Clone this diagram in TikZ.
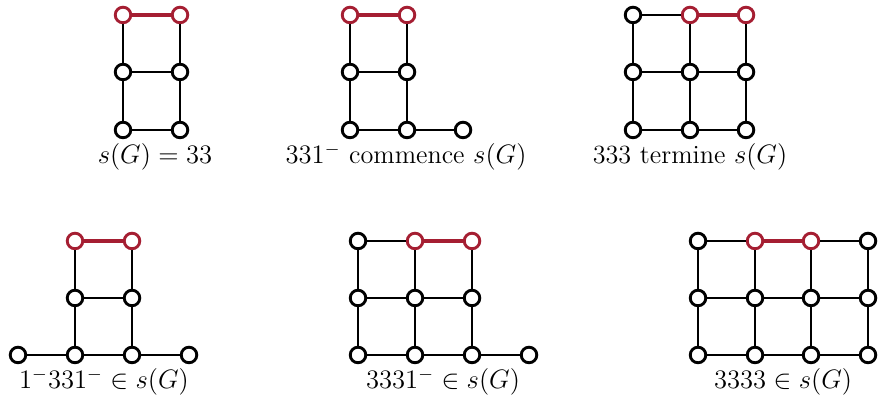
\documentclass[tikz,border=0pt]{standalone}
\usepackage{amssymb}
\definecolor{myred}{RGB}{165,30,50}
\tikzset{
  v/.style={circle,draw=black,line width=1.3pt,fill=white,inner sep=0pt,minimum size=7.0pt},
  rv/.style={v,draw=myred},
  e/.style={line width=0.65pt,black},
  re/.style={line width=1.4pt,myred},
  lab/.style={inner sep=0pt,font=\fontsize{11.8}{14}\selectfont}
}
\begin{document}
\begin{tikzpicture}[x=0.45pt,y=-0.45pt]
\useasboundingbox (0,0) rectangle (878,401);
% ---------- panel 1
\node[rv] (a1) at (123,15) {}; \node[rv] (a2) at (180,15) {};
\node[v] (a3) at (123,72) {}; \node[v] (a4) at (180,72) {};
\node[v] (a5) at (123,130) {}; \node[v] (a6) at (180,130) {};
\draw[re] (a1) -- (a2);
\draw[e] (a1) -- (a3) (a2) -- (a4) (a3) -- (a4) (a3) -- (a5) (a4) -- (a6) (a5) -- (a6);
\node[lab] (la) at (155,157) {$s(G)=33$};
% ---------- panel 2
\node[rv] (b1) at (350,15) {}; \node[rv] (b2) at (407,15) {};
\node[v] (b3) at (350,72) {}; \node[v] (b4) at (407,72) {};
\node[v] (b5) at (350,130) {}; \node[v] (b6) at (407,130) {}; \node[v] (b7) at (463,130) {};
\draw[re] (b1) -- (b2);
\draw[e] (b1) -- (b3) (b2) -- (b4) (b3) -- (b4) (b3) -- (b5) (b4) -- (b6) (b5) -- (b6) (b6) -- (b7);
\node[lab] (lb) at (406,157) {$331^-$ commence $s(G)$};
% ---------- panel 3
\node[v] (c1) at (633,15) {}; \node[rv] (c2) at (690,15) {}; \node[rv] (c3) at (746,15) {};
\node[v] (c4) at (633,72) {}; \node[v] (c5) at (690,72) {}; \node[v] (c6) at (746,72) {};
\node[v] (c7) at (633,130) {}; \node[v] (c8) at (690,130) {}; \node[v] (c9) at (746,130) {};
\draw[re] (c2) -- (c3);
\draw[e] (c1) -- (c2) (c4) -- (c5) (c5) -- (c6) (c7) -- (c8) (c8) -- (c9)
  (c1) -- (c4) (c4) -- (c7) (c2) -- (c5) (c5) -- (c8) (c3) -- (c6) (c6) -- (c9);
\node[lab] (lc) at (690,157) {333 termine $s(G)$};
% ---------- panel 4
\node[rv] (d1) at (75,241) {}; \node[rv] (d2) at (132,241) {};
\node[v] (d3) at (75,298) {}; \node[v] (d4) at (132,298) {};
\node[v] (d5) at (18,355) {}; \node[v] (d6) at (75,355) {}; \node[v] (d7) at (132,355) {}; \node[v] (d8) at (189,355) {};
\draw[re] (d1) -- (d2);
\draw[e] (d1) -- (d3) (d2) -- (d4) (d3) -- (d4) (d3) -- (d6) (d4) -- (d7)
  (d5) -- (d6) (d6) -- (d7) (d7) -- (d8);
\node[lab] (ld) at (104,382) {$1^-331^-\in s(G)$};
% ---------- panel 5
\node[v] (f1) at (358,241) {}; \node[rv] (f2) at (415,241) {}; \node[rv] (f3) at (472,241) {};
\node[v] (f4) at (358,298) {}; \node[v] (f5) at (415,298) {}; \node[v] (f6) at (472,298) {};
\node[v] (f7) at (358,355) {}; \node[v] (f8) at (415,355) {}; \node[v] (f9) at (472,355) {}; \node[v] (f10) at (529,355) {};
\draw[re] (f2) -- (f3);
\draw[e] (f1) -- (f2) (f4) -- (f5) (f5) -- (f6) (f7) -- (f8) (f8) -- (f9) (f9) -- (f10)
  (f1) -- (f4) (f4) -- (f7) (f2) -- (f5) (f5) -- (f8) (f3) -- (f6) (f6) -- (f9);
\node[lab] (lf) at (443,382) {$3331^-\in s(G)$};
% ---------- panel 6
\node[v] (g1) at (698,241) {}; \node[rv] (g2) at (755,241) {}; \node[rv] (g3) at (811,241) {}; \node[v] (g4) at (868,241) {};
\node[v] (g5) at (698,298) {}; \node[v] (g6) at (755,298) {}; \node[v] (g7) at (811,298) {}; \node[v] (g8) at (868,298) {};
\node[v] (g9) at (698,355) {}; \node[v] (g10) at (755,355) {}; \node[v] (g11) at (811,355) {}; \node[v] (g12) at (868,355) {};
\draw[re] (g2) -- (g3);
\draw[e] (g1) -- (g2) (g3) -- (g4) (g5) -- (g6) (g6) -- (g7) (g7) -- (g8)
  (g9) -- (g10) (g10) -- (g11) (g11) -- (g12)
  (g1) -- (g5) (g5) -- (g9) (g2) -- (g6) (g6) -- (g10) (g3) -- (g7) (g7) -- (g11) (g4) -- (g8) (g8) -- (g12);
\node[lab] (lg) at (783,382) {$3333\in s(G)$};
\end{tikzpicture}
\end{document}
